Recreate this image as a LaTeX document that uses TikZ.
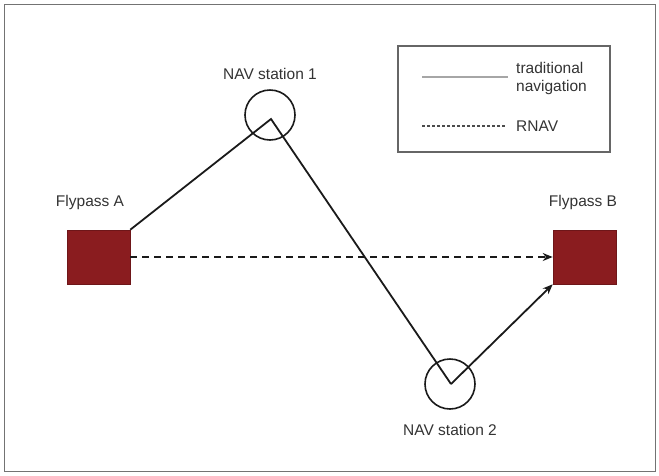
\documentclass[tikz,border=0pt]{standalone}
\usepackage{fontspec}
\setmainfont{Liberation Sans}
\usetikzlibrary{arrows.meta}
\definecolor{flyred}{HTML}{8A1C1F}
\definecolor{linegray}{HTML}{1A1A1A}
\tikzset{
  flypass/.style={fill=flyred, draw=flyred!80!black, line width=0.6pt, minimum width=63pt, minimum height=54pt, inner sep=0pt},
  navcircle/.style={circle, draw=linegray, line width=1.6pt, minimum size=50pt, inner sep=0pt},
  lbl/.style={font=\fontsize{15.5}{18}\selectfont, text=black!80, inner sep=0pt},
  route/.style={draw=linegray, line width=1.8pt},
  rnav/.style={draw=linegray, line width=2pt, dash pattern=on 7pt off 5pt},
  tip/.style={-{Stealth[length=10pt,width=8pt]}}
}
\begin{document}
\begin{tikzpicture}[x=1pt,y=-1pt]
\useasboundingbox (0,0) rectangle (659,475);
\draw[black!55, line width=0.8pt] (4,4) rectangle (655,471);
% legend
\node[draw=black!60, line width=1.2pt, minimum width=212pt, minimum height=106pt, inner sep=0pt] (legend) at (504,99) {};
\coordinate (ls1) at (422,77);
\coordinate (le1) at (508,77);
\draw[black!35, line width=1.8pt] (ls1) -- (le1);
\node[lbl, anchor=west, align=left] (ltrad) at (516,78) {traditional\\navigation};
\coordinate (ls2) at (422,126);
\coordinate (le2) at (506,126);
\draw[black!70, line width=1.6pt, dash pattern=on 3pt off 2pt] (ls2) -- (le2);
\node[lbl, anchor=west] (lrnav) at (516,126) {RNAV};
% nodes
\node[flypass] (A) at (98.5,257) {};
\node[flypass] (B) at (584.5,257) {};
\node[lbl] (lA) at (90,202) {Flypass A};
\node[lbl] (lB) at (583,202) {Flypass B};
\node[navcircle] (N1) at (270,115) {};
\node[navcircle] (N2) at (450,384) {};
\node[lbl] (lN1) at (270,74) {NAV station 1};
\node[lbl] (lN2) at (450,430) {NAV station 2};
\coordinate (p1) at (271,119);
\coordinate (p2) at (451,384);
% routes
\draw[route] (A.north east) -- (p1) -- (p2);
\draw[route, tip] (p2) -- (B.south west);
\draw[rnav, tip] (A.east) -- (B.west);
\end{tikzpicture}
\end{document}
